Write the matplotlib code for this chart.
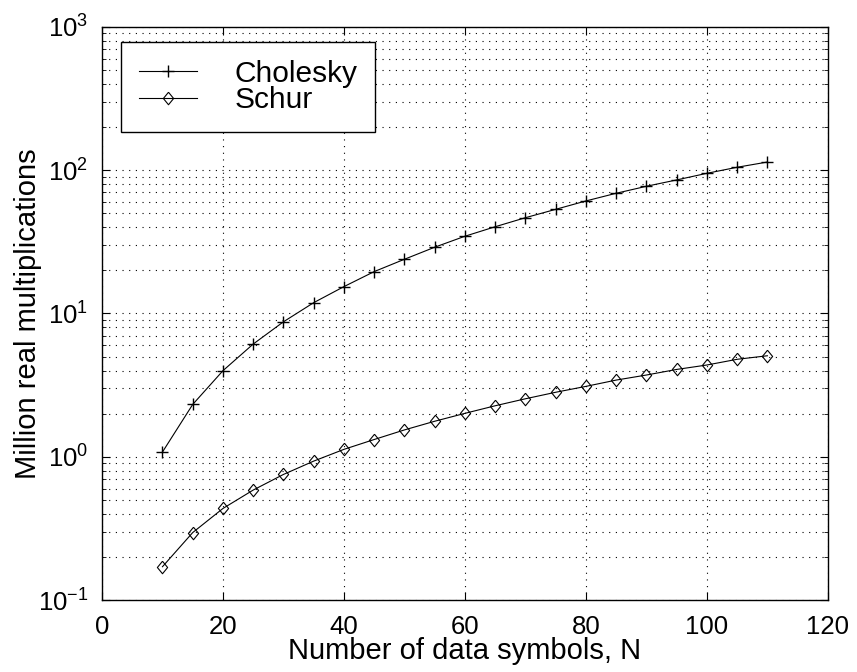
import numpy as np
import matplotlib
matplotlib.use('Agg')
import matplotlib.pyplot as plt
from matplotlib.ticker import LogLocator, MultipleLocator

# Datos
n_symbols = [10, 15, 20, 25, 30, 35, 40, 45, 50, 55, 60,
             65, 70, 75, 80, 85, 90, 95, 100, 105, 110]
cholesky = [1.08, 2.32, 3.99, 6.12, 8.75, 11.9, 15.4, 19.6, 23.9, 29.0, 34.6,
            40.3, 46.6, 53.3, 61.0, 69.0, 77.2, 85.5, 95.1, 104.8, 114.0]
schur = [0.171, 0.296, 0.436, 0.586, 0.753, 0.933, 1.127, 1.32, 1.54, 1.77, 2.01,
         2.27, 2.54, 2.82, 3.10, 3.43, 3.72, 4.07, 4.37, 4.79, 5.07]

plt.rcParams['font.family'] = ['Liberation Sans', 'DejaVu Sans']
plt.rcParams['mathtext.fontset'] = 'custom'
plt.rcParams['mathtext.rm'] = 'Liberation Sans'

# Rombo estilo MATLAB (algo mas alto que ancho)
rombo = [(0, 1), (0.82, 0), (0, -1), (-0.82, 0), (0, 1)]

fig = plt.figure(figsize=(8.57, 6.72), dpi=100)
ax = fig.add_axes([0.119, 0.107, 0.847, 0.853])

ax.semilogy(n_symbols, cholesky, color='k', lw=0.8, marker='+', ms=8,
            mew=1.0, label='Cholesky')
ax.semilogy(n_symbols, schur, color='k', lw=0.8, marker=rombo, ms=9,
            mfc='none', mec='k', mew=0.8, label='Schur')

ax.set_xlim(0, 120)
ax.set_ylim(1e-1, 1e3)
ax.xaxis.set_major_locator(MultipleLocator(20))
ax.yaxis.set_major_locator(LogLocator(base=10, numticks=10))
ax.yaxis.set_minor_locator(LogLocator(base=10, subs=np.arange(2, 10), numticks=20))

grid_style = dict(linestyle=(0, (1, 5)), color='k', lw=0.8)
ax.grid(True, which='major', **grid_style)
ax.grid(True, which='minor', axis='y', **grid_style)
ax.tick_params(which='both', direction='in', top=True, right=True,
               labelsize=18.5)
ax.tick_params(axis='x', pad=10.5)
ax.tick_params(axis='y', pad=10)
ax.tick_params(which='major', length=6)
ax.tick_params(which='minor', length=3)
for s in ax.spines.values():
    s.set_linewidth(1.0)

ax.set_xlabel('Number of data symbols, N', fontsize=21, labelpad=-1)
ax.set_ylabel('Million real multiplications', fontsize=21, labelpad=-3)

leg = ax.legend(loc='upper left', fontsize=21.5, handlelength=1.95,
                handletextpad=1.25, borderpad=0.6, labelspacing=-0.05,
                borderaxespad=0, fancybox=False, framealpha=1, edgecolor='k',
                bbox_to_anchor=(0.026, 0.974))
leg.get_frame().set_linewidth(1.0)

plt.savefig('out.png', dpi=100)
